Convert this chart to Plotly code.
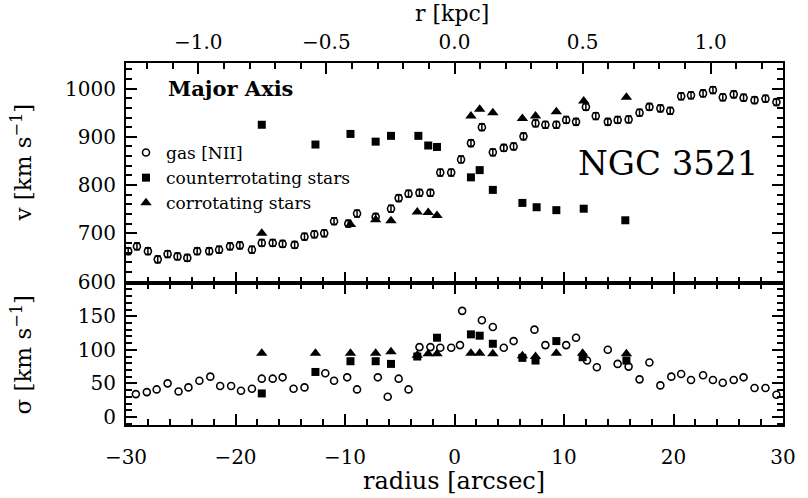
import plotly.graph_objects as go

ARCSEC_PER_KPC = 23.4

# ---- rotation curve (top panel) ----
gas_r = [-29.8, -29.0, -28.0, -27.1, -26.2, -25.3, -24.4, -23.5, -22.4, -21.5, -20.5, -19.6,
         -18.5, -17.6, -16.6, -15.7, -14.6, -13.7, -12.8, -11.9, -11.0, -9.7, -8.9, -7.2,
         -5.8, -5.1, -4.2, -3.2, -2.2, -1.3, -0.3, 0.6, 1.5, 2.5, 3.5, 4.5, 5.4, 6.3, 7.4,
         8.3, 9.3, 10.2, 11.1, 12.0, 12.9, 14.0, 14.9, 15.9, 16.9, 17.8, 18.8, 19.7, 20.7,
         21.6, 22.7, 23.6, 24.5, 25.5, 26.4, 27.4, 28.4, 29.4]
gas_v = [663, 673, 663, 646, 657, 652, 649, 663, 663, 666, 673, 675,
         666, 680, 680, 678, 676, 693, 698, 700, 725, 720, 741, 734,
         751, 773, 782, 784, 784, 826, 826, 853, 887, 920, 868, 877, 880, 901, 928,
         925, 925, 935, 931, 962, 943, 931, 935, 936, 950, 962, 959, 954, 984,
         986, 990, 997, 982, 988, 981, 976, 979, 972]

cr_r = [-17.6, -12.7, -9.5, -7.2, -5.8, -3.3, -2.4, -1.6, 1.5, 2.3, 3.5, 6.2, 7.5, 9.3, 11.8, 15.6]
cr_v = [925, 884, 906, 890, 902, 902, 882, 879, 816, 831, 790, 763, 754, 748, 751, 727]

co_r = [-17.6, -9.5, -7.2, -5.8, -3.4, -2.4, -1.6, 1.5, 2.3, 3.5, 6.2, 7.4, 9.3, 11.8, 15.7]
co_v = [700, 718, 728, 726, 744, 743, 737, 943, 957, 950, 938, 943, 952, 974, 982]

# ---- velocity dispersion (bottom panel) ----
gas_sr = [-29.1, -28.1, -27.2, -26.2, -25.2, -24.3, -23.3, -22.3, -21.4, -20.4, -19.5, -18.5,
          -17.6, -16.6, -15.7, -14.7, -13.7, -11.8, -11.0, -9.8, -8.9, -7.0, -6.1, -5.1,
          -4.2, -3.2, -2.2, -1.3, -0.3, 0.5, 0.7, 2.5, 3.5, 4.5, 5.4, 7.3, 8.3, 10.2, 11.1,
          12.1, 13.0, 14.0, 14.9, 15.9, 16.9, 17.8, 18.8, 19.8, 20.7, 21.6, 22.7, 23.6, 24.5,
          25.5, 26.4, 27.4, 28.4, 29.4]
gas_s = [34, 37, 41, 50, 38, 44, 54, 60, 46, 46, 39, 42,
         57, 57, 59, 42, 44, 65, 54, 59, 41, 59, 30, 57,
         41, 104, 104, 103, 103, 107, 158, 144, 134, 103, 113, 130, 107, 107, 118,
         84, 74, 100, 79, 75, 56, 81, 47, 60, 64, 55, 62, 55, 51,
         55, 59, 43, 43, 33]

cr_sr = [-17.6, -12.7, -9.5, -7.2, -5.8, -3.4, -1.6, 1.5, 2.3, 3.5, 6.2, 7.4, 9.3, 11.7, 15.7]
cr_s = [35, 67, 83, 83, 79, 90, 118, 123, 121, 109, 88, 84, 113, 89, 84]

co_sr = [-17.6, -12.7, -9.5, -7.2, -5.8, -3.4, -2.4, -1.6, 1.5, 2.3, 3.5, 6.2, 7.4, 9.3, 11.7, 15.7]
co_s = [95, 95, 95, 95, 97, 92, 94, 94, 95, 95, 94, 91, 90, 95, 95, 94]

FONT = "DejaVu Serif"
BLACK = "#000000"

gas_marker = dict(symbol="circle-open", size=7, color=BLACK, line=dict(width=1.6, color=BLACK))
cr_marker = dict(symbol="square", size=8, color=BLACK)
co_marker = dict(symbol="triangle-up", size=10, color=BLACK)

fig = go.Figure()

# top panel
fig.add_trace(go.Scatter(x=gas_r, y=gas_v, mode="markers", name="gas [NII]", marker=gas_marker,
                         error_y=dict(type="constant", value=7, color=BLACK, thickness=1.5, width=3),
                         xaxis="x2", yaxis="y2"))
fig.add_trace(go.Scatter(x=cr_r, y=cr_v, mode="markers", name="counterrotating stars", marker=cr_marker,
                         xaxis="x2", yaxis="y2"))
fig.add_trace(go.Scatter(x=co_r, y=co_v, mode="markers", name="corrotating stars", marker=co_marker,
                         xaxis="x2", yaxis="y2"))
# invisible trace to anchor the kpc axis
fig.add_trace(go.Scatter(x=[r / ARCSEC_PER_KPC for r in gas_r], y=gas_v, mode="markers",
                         marker=dict(opacity=0), showlegend=False, hoverinfo="skip",
                         xaxis="x3", yaxis="y2"))

# bottom panel
fig.add_trace(go.Scatter(x=gas_sr, y=gas_s, mode="markers", marker=gas_marker, showlegend=False,
                         xaxis="x", yaxis="y"))
fig.add_trace(go.Scatter(x=cr_sr, y=cr_s, mode="markers", marker=cr_marker, showlegend=False,
                         xaxis="x", yaxis="y"))
fig.add_trace(go.Scatter(x=co_sr, y=co_s, mode="markers", marker=co_marker, showlegend=False,
                         xaxis="x", yaxis="y"))

split = (425 - 283) / 362.0

axis_common = dict(showline=True, linecolor=BLACK, linewidth=2, ticks="inside", tickcolor=BLACK,
                   tickwidth=1.5, ticklen=11, showgrid=False, zeroline=False,
                   tickfont=dict(family=FONT, size=20, color=BLACK))
minor_common = dict(ticks="inside", ticklen=6, tickcolor=BLACK, tickwidth=1.5, showgrid=False)

fig.update_layout(
    width=808, height=498,
    margin=dict(l=126, r=15, t=63, b=73),
    paper_bgcolor="white", plot_bgcolor="white",
    font=dict(family=FONT, color=BLACK),
    xaxis=dict(axis_common, range=[-30, 30], dtick=10, tick0=0, mirror="ticks", anchor="y",
               minor=dict(minor_common, dtick=2), ticklabelstandoff=13),
    yaxis=dict(axis_common, range=[-12, 199.5], dtick=50, tick0=0, mirror="ticks", anchor="x",
               domain=[0, split], minor=dict(minor_common, dtick=10), ticklabelstandoff=4),
    xaxis2=dict(axis_common, range=[-30, 30], dtick=10, tick0=0, anchor="y2", matches="x",
                showticklabels=False, minor=dict(minor_common, dtick=2)),
    yaxis2=dict(axis_common, range=[597, 1053], dtick=100, tick0=0, mirror="ticks", anchor="x2",
                domain=[split, 1], minor=dict(minor_common, dtick=20), ticklabelstandoff=4),
    xaxis3=dict(axis_common, range=[-30 / ARCSEC_PER_KPC, 30 / ARCSEC_PER_KPC], dtick=0.5, tick0=0,
                tickformat=".1f", overlaying="x2", side="top", anchor="y2",
                minor=dict(minor_common, dtick=0.1), ticklabelstandoff=4),
    showlegend=True,
    legend=dict(x=0.0, y=(425 - 135) / 362.0, xanchor="left", yanchor="top",
                bgcolor="rgba(0,0,0,0)", borderwidth=0, itemwidth=30,
                font=dict(family=FONT, size=17, color=BLACK), tracegroupgap=0),
)


def label(text, px, py, size, angle=0):
    return dict(text=text, x=(px - 126) / 667.0, y=(425 - py) / 362.0, xref="paper", yref="paper",
                xanchor="center", yanchor="middle", showarrow=False, textangle=angle,
                font=dict(family=FONT, size=size, color=BLACK))


annotations = [
    label("radius [arcsec]", 459, 481, 24),
    label("r [kpc]", 457, 14, 22),
    label("v [km s<sup>−1</sup>]", 20, 163, 23, -90),
    label("σ [km s<sup>−1</sup>]", 20, 355, 23, -90),
    label("<b>Major Axis</b>", 232, 88, 21),
    label("NGC 3521", 676, 163, 34),
]
fig.update_layout(annotations=annotations)

fig.write_html("out.html")
